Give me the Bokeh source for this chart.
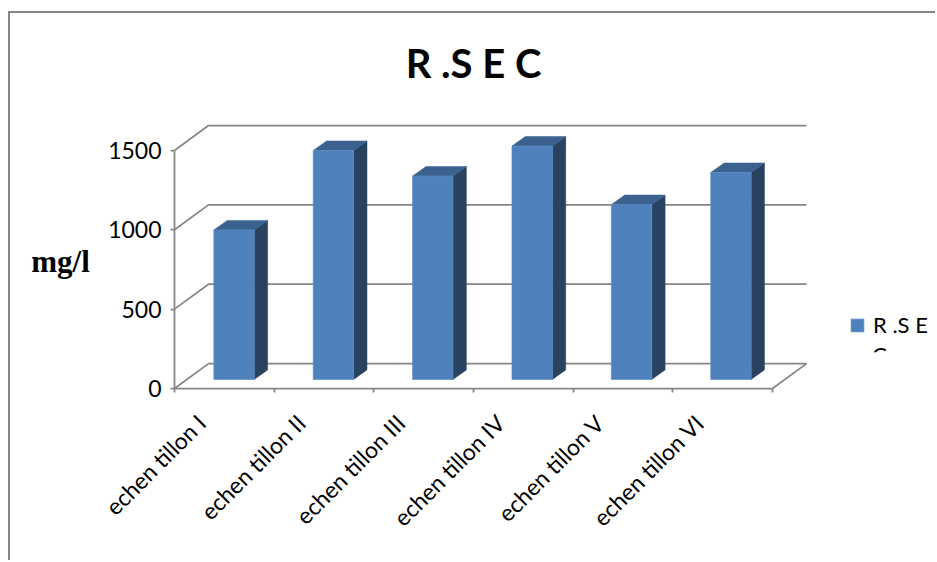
from math import pi

from bokeh.core.properties import value
from bokeh.embed import file_html
from bokeh.models import FixedTicker, Legend, LegendItem, LinearAxis, Range1d
from bokeh.plotting import figure
from bokeh.resources import INLINE

# Sample concentrations (mg/l)
categories = ["echen tillon I", "echen tillon II", "echen tillon III",
              "echen tillon IV", "echen tillon V", "echen tillon VI"]
rsec_values = [942, 1443, 1282, 1471, 1102, 1304]
y_ticks = [0, 500, 1000, 1500]
series_name = "R .S E"
chart_title = "R .S E C"
y_title = "mg/l"

# Oblique projection of the 3D box, in data units
WALL_DX, WALL_DY = 0.341, 157.0
BAR_STEP, BAR_LEFT, BAR_WIDTH = 0.997, 0.395, 0.405
BAR_BASE = 57.0
BAR_DX, BAR_DY = 0.134, 60.0
LABEL_SHIFT = 0.23
GREY = "#868686"

# The axes sit inside the frame, which fills the whole figure.
# The box shadow draws the top and left edges of the chart's border.
p = figure(width=927, height=549, output_backend="svg", toolbar_location=None,
           x_range=Range1d(-1.6454, 7.655), y_range=Range1d(-1096.4, 2363),
           x_axis_location=None, y_axis_location=None,
           min_border_left=0, min_border_bottom=0,
           min_border_top=0, min_border_right=0,
           outline_line_color=None, background_fill_color="white",
           margin=(13, 0, 0, 10),
           styles={"box-shadow": f"-2px -2px 0 0 {GREY}"})
p.grid.visible = False

# Walls and floor
n = len(categories)
for tick in y_ticks:
    p.line([0, WALL_DX, n + WALL_DX], [tick, tick + WALL_DY, tick + WALL_DY],
           line_color=GREY, line_width=1.75)
p.line([n, n + WALL_DX], [0, WALL_DY], line_color=GREY, line_width=1.75)

# Bars: side, top and front faces
lefts = [i * BAR_STEP + BAR_LEFT for i in range(n)]
rights = [l + BAR_WIDTH for l in lefts]
tops = [BAR_BASE + v for v in rsec_values]
p.patches([[r, r + BAR_DX, r + BAR_DX, r] for r in rights],
          [[BAR_BASE, BAR_BASE + BAR_DY, t + BAR_DY, t] for t in tops],
          fill_color="#284260", line_color="#284260", line_width=0.5)
p.patches([[l, l + BAR_DX, r + BAR_DX, r] for l, r in zip(lefts, rights)],
          [[t, t + BAR_DY, t + BAR_DY, t] for t in tops],
          fill_color="#3B628F", line_color="#3B628F", line_width=0.5)
front = p.quad(left=lefts, right=rights, bottom=BAR_BASE, top=tops,
               fill_color="#4F81BD", line_color="#5B8CC4", line_width=0.7)

# Axes
y_axis = LinearAxis(ticker=FixedTicker(ticks=y_ticks), bounds=(0, 1500),
                    fixed_location=0,
                    axis_line_color=GREY, axis_line_width=1.75,
                    major_tick_line_color=GREY, major_tick_line_width=1.75,
                    major_tick_out=4, major_tick_in=0, minor_tick_out=0,
                    major_label_text_font="Lato",
                    major_label_text_font_size="23px",
                    major_label_text_color="#000000",
                    major_label_standoff=9)
p.add_layout(y_axis, "left")

label_ticks = [i + 0.5 - LABEL_SHIFT for i in range(n)]
x_axis = LinearAxis(ticker=FixedTicker(ticks=label_ticks, minor_ticks=list(range(n + 1))),
                    bounds=(0, n), fixed_location=0,
                    major_label_overrides=dict(zip(label_ticks, categories)),
                    major_label_orientation=pi / 4,
                    axis_line_color=GREY, axis_line_width=1.75,
                    major_tick_out=0, major_tick_in=0,
                    minor_tick_line_color=GREY, minor_tick_line_width=1.75,
                    minor_tick_out=4, minor_tick_in=0,
                    major_label_text_font="Lato",
                    major_label_text_font_size="23px",
                    major_label_text_color="#000000",
                    major_label_standoff=26)
p.add_layout(x_axis, "below")

# Titles
p.text(x=[3.0], y=[2050], text=[chart_title], text_font=value("Lato"),
       text_font_size="40px", text_font_style="bold", text_color="#000000",
       text_align="center", text_baseline="middle")
p.text(x=[-1.144], y=[800], text=[y_title], text_font=value("Liberation Serif"),
       text_font_size="31px", text_font_style="bold", text_color="#000000",
       text_align="center", text_baseline="middle")

# Legend, with its wrapped second line cut off at the legend's edge
p.text(x=[7.0], y=[215], text=["C"], text_font=value("Lato"),
       text_font_size="22px", text_color="#000000",
       text_align="left", text_baseline="middle")
p.quad(left=[6.95], right=[7.3], bottom=[100], top=[228],
       fill_color="white", line_color=None)
legend = Legend(items=[LegendItem(label=series_name, renderers=[front])],
                location=(839, 224), padding=0, margin=0, spacing=0,
                glyph_width=16, glyph_height=16, label_standoff=8,
                label_text_font="Lato", label_text_font_size="22px",
                label_text_color="#000000", label_height=16,
                background_fill_alpha=0, border_line_color=None)
p.add_layout(legend, "center")

open("out.html", "w").write(file_html(p, INLINE))
